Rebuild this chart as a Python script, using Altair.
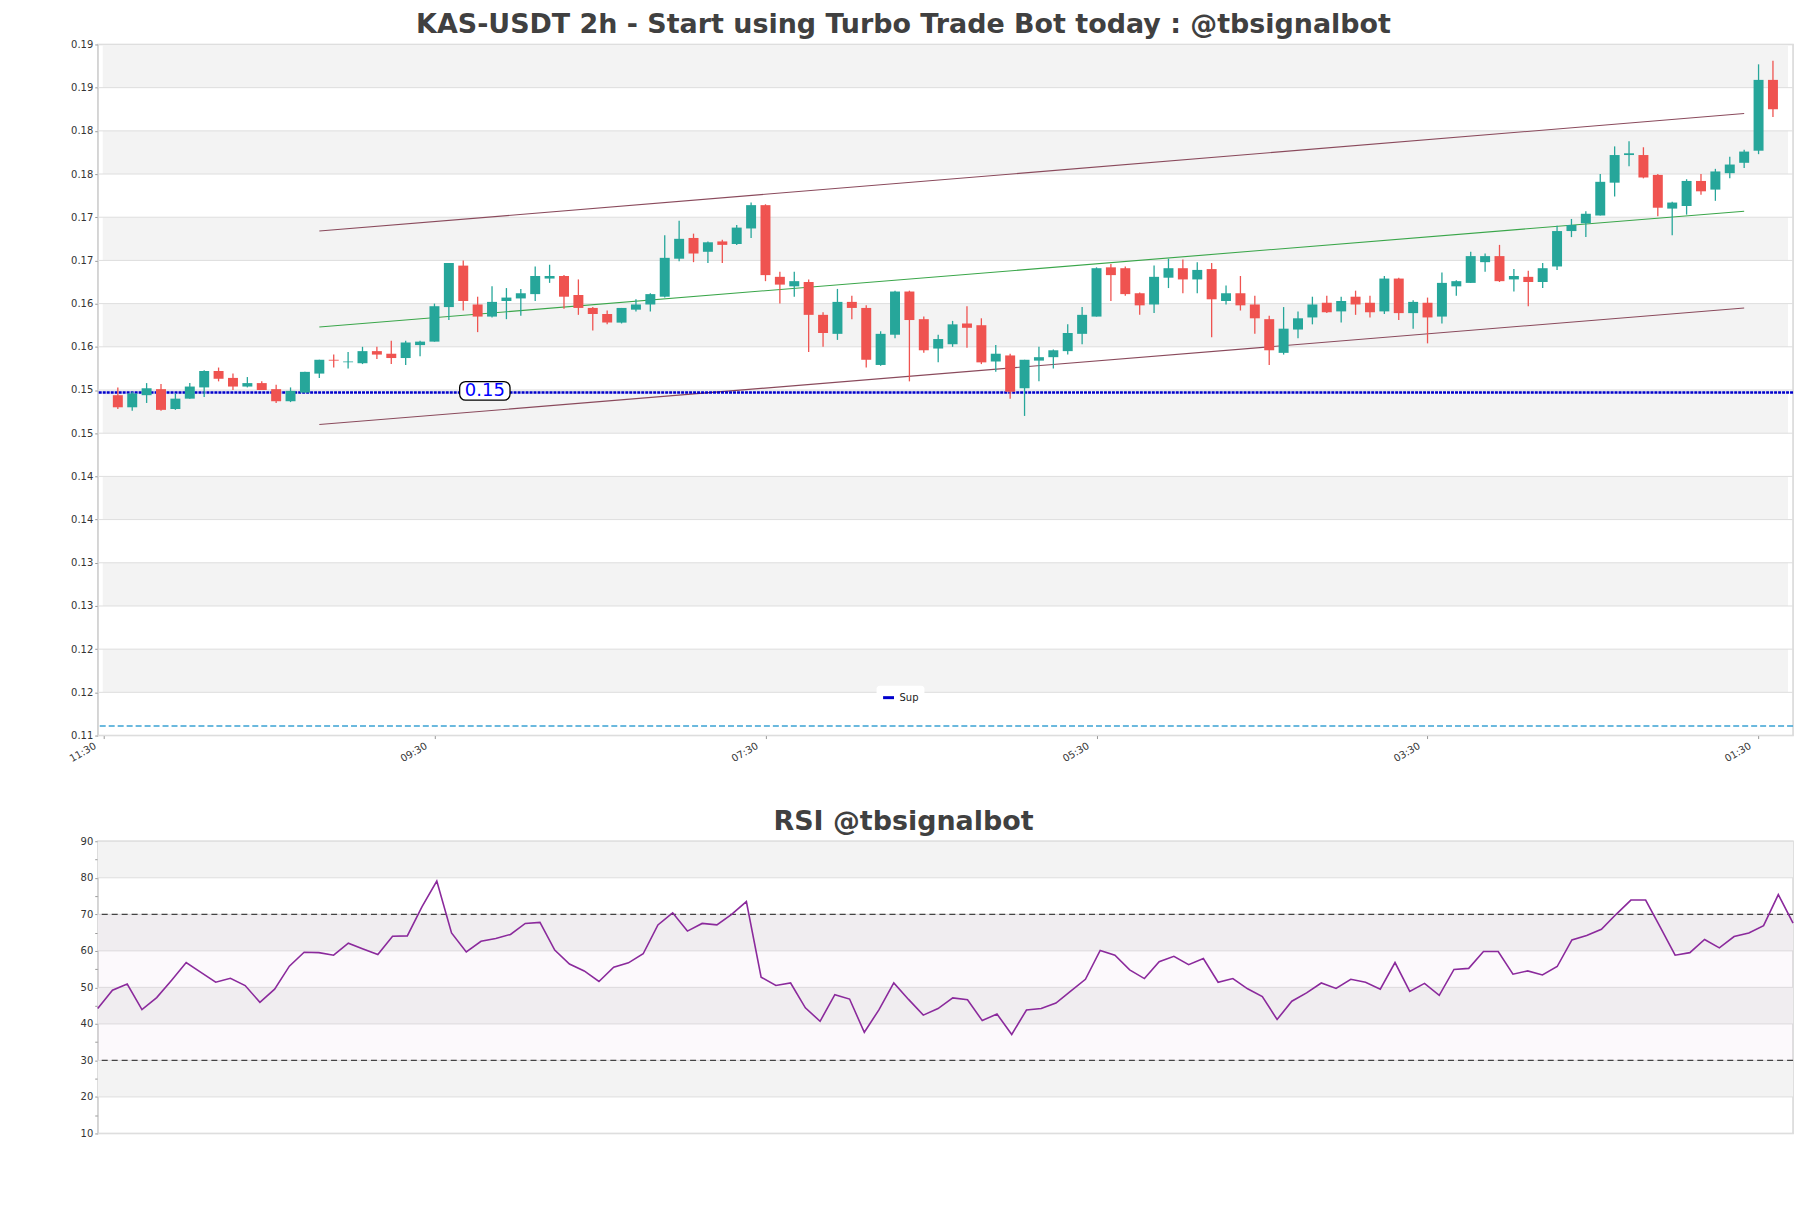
import altair as alt
import pandas as pd

main_title = "KAS-USDT 2h - Start using Turbo Trade Bot today : @tbsignalbot"
rsi_title = "RSI @tbsignalbot"

candle_open = [
    0.1519, 0.1505, 0.1519, 0.1526, 0.1503, 0.1515, 0.1528, 0.1547, 0.1539, 0.1529,
    0.1533, 0.1526, 0.1512, 0.1522, 0.1544, 0.1560, 0.1557, 0.1556, 0.1570, 0.1567,
    0.1562, 0.1577, 0.1581, 0.1621, 0.1669, 0.1624, 0.1610, 0.1628, 0.1631, 0.1636,
    0.1654, 0.1657, 0.1635, 0.1620, 0.1613, 0.1603, 0.1618, 0.1624, 0.1633, 0.1677,
    0.1701, 0.1685, 0.1697, 0.1694, 0.1712, 0.1739, 0.1656, 0.1645, 0.1650, 0.1612,
    0.1590, 0.1627, 0.1620, 0.1554, 0.1589, 0.1639, 0.1607, 0.1573, 0.1578, 0.1602,
    0.1600, 0.1558, 0.1565, 0.1527, 0.1559, 0.1563, 0.1570, 0.1590, 0.1610, 0.1667,
    0.1666, 0.1637, 0.1624, 0.1655, 0.1666, 0.1653, 0.1665, 0.1628, 0.1637, 0.1624,
    0.1607, 0.1568, 0.1595, 0.1609, 0.1626, 0.1616, 0.1633, 0.1626, 0.1616, 0.1654,
    0.1614, 0.1626, 0.1610, 0.1645, 0.1649, 0.1673, 0.1680, 0.1653, 0.1656, 0.1650,
    0.1668, 0.1709, 0.1718, 0.1727, 0.1765, 0.1797, 0.1797, 0.1774, 0.1735, 0.1738,
    0.1767, 0.1757, 0.1776, 0.1788, 0.1802, 0.1884,
]
candle_high = [
    0.1528, 0.1523, 0.1533, 0.1532, 0.1521, 0.1533, 0.1548, 0.1551, 0.1544, 0.1540,
    0.1535, 0.1531, 0.1528, 0.1546, 0.1560, 0.1566, 0.1569, 0.1575, 0.1575, 0.1582,
    0.1582, 0.1582, 0.1625, 0.1672, 0.1675, 0.1633, 0.1645, 0.1643, 0.1642, 0.1668,
    0.1670, 0.1658, 0.1653, 0.1621, 0.1617, 0.1620, 0.1630, 0.1637, 0.1704, 0.1721,
    0.1706, 0.1697, 0.1699, 0.1716, 0.1742, 0.1740, 0.1662, 0.1662, 0.1653, 0.1615,
    0.1642, 0.1634, 0.1623, 0.1593, 0.1640, 0.1640, 0.1610, 0.1589, 0.1605, 0.1622,
    0.1608, 0.1577, 0.1567, 0.1560, 0.1575, 0.1572, 0.1601, 0.1621, 0.1667, 0.1671,
    0.1668, 0.1638, 0.1669, 0.1677, 0.1676, 0.1673, 0.1672, 0.1646, 0.1657, 0.1634,
    0.1611, 0.1621, 0.1616, 0.1633, 0.1634, 0.1633, 0.1640, 0.1634, 0.1657, 0.1655,
    0.1629, 0.1632, 0.1661, 0.1652, 0.1685, 0.1683, 0.1693, 0.1665, 0.1663, 0.1672,
    0.1715, 0.1723, 0.1732, 0.1775, 0.1807, 0.1813, 0.1806, 0.1775, 0.1743, 0.1769,
    0.1775, 0.1781, 0.1795, 0.1803, 0.1902, 0.1906,
]
candle_low = [
    0.1503, 0.1501, 0.1510, 0.1501, 0.1502, 0.1515, 0.1517, 0.1535, 0.1525, 0.1528,
    0.1525, 0.1510, 0.1511, 0.1522, 0.1539, 0.1551, 0.1550, 0.1555, 0.1561, 0.1555,
    0.1554, 0.1564, 0.1581, 0.1606, 0.1617, 0.1592, 0.1609, 0.1607, 0.1611, 0.1628,
    0.1649, 0.1619, 0.1612, 0.1594, 0.1601, 0.1602, 0.1616, 0.1616, 0.1632, 0.1674,
    0.1673, 0.1672, 0.1672, 0.1693, 0.1701, 0.1651, 0.1625, 0.1633, 0.1569, 0.1575,
    0.1583, 0.1607, 0.1551, 0.1553, 0.1585, 0.1535, 0.1568, 0.1557, 0.1575, 0.1574,
    0.1555, 0.1546, 0.1515, 0.1495, 0.1535, 0.1550, 0.1566, 0.1578, 0.1610, 0.1628,
    0.1634, 0.1612, 0.1614, 0.1643, 0.1637, 0.1637, 0.1586, 0.1624, 0.1617, 0.1590,
    0.1554, 0.1566, 0.1585, 0.1601, 0.1614, 0.1603, 0.1612, 0.1609, 0.1613, 0.1606,
    0.1596, 0.1579, 0.1602, 0.1634, 0.1649, 0.1662, 0.1650, 0.1639, 0.1622, 0.1643,
    0.1664, 0.1702, 0.1702, 0.1727, 0.1749, 0.1784, 0.1770, 0.1726, 0.1704, 0.1728,
    0.1751, 0.1744, 0.1770, 0.1782, 0.1798, 0.1841,
]
candle_close = [
    0.1505, 0.1521, 0.1527, 0.1502, 0.1515, 0.1529, 0.1547, 0.1538, 0.1529, 0.1533,
    0.1525, 0.1512, 0.1524, 0.1546, 0.1560, 0.1559, 0.1558, 0.1570, 0.1566, 0.1562,
    0.1580, 0.1581, 0.1622, 0.1672, 0.1628, 0.1610, 0.1627, 0.1632, 0.1637, 0.1657,
    0.1657, 0.1633, 0.1620, 0.1613, 0.1603, 0.1620, 0.1624, 0.1636, 0.1678, 0.1700,
    0.1683, 0.1696, 0.1693, 0.1713, 0.1739, 0.1658, 0.1647, 0.1651, 0.1612, 0.1591,
    0.1627, 0.1620, 0.1560, 0.1590, 0.1639, 0.1606, 0.1571, 0.1584, 0.1601, 0.1597,
    0.1557, 0.1567, 0.1523, 0.1560, 0.1563, 0.1571, 0.1591, 0.1612, 0.1666, 0.1658,
    0.1636, 0.1623, 0.1656, 0.1666, 0.1653, 0.1664, 0.1630, 0.1637, 0.1623, 0.1608,
    0.1571, 0.1596, 0.1608, 0.1624, 0.1615, 0.1628, 0.1624, 0.1615, 0.1654, 0.1614,
    0.1627, 0.1609, 0.1649, 0.1651, 0.1680, 0.1680, 0.1651, 0.1657, 0.1650, 0.1666,
    0.1709, 0.1716, 0.1729, 0.1766, 0.1797, 0.1799, 0.1771, 0.1736, 0.1742, 0.1767,
    0.1755, 0.1778, 0.1786, 0.1801, 0.1884, 0.1850,
]

rsi_values = [
    44.2, 49.2, 50.9, 43.9, 47.2, 51.9, 56.8, 54.1, 51.4, 52.5,
    50.5, 45.9, 49.5, 55.8, 59.6, 59.5, 58.8, 62.1, 60.5, 59.0,
    64.0, 64.1, 72.1, 79.1, 64.9, 59.7, 62.6, 63.4, 64.5, 67.5,
    67.8, 60.2, 56.4, 54.5, 51.6, 55.5, 56.7, 59.2, 67.1, 70.4,
    65.4, 67.5, 67.1, 70.0, 73.5, 52.8, 50.5, 51.2, 44.4, 40.7,
    48.0, 46.8, 37.7, 43.9, 51.2, 46.7, 42.4, 44.2, 47.1, 46.6,
    40.9, 42.7, 37.1, 43.8, 44.2, 45.7, 49.0, 52.2, 60.1, 58.8,
    54.8, 52.4, 57.0, 58.5, 56.2, 57.9, 51.4, 52.4, 49.6, 47.5,
    41.2, 46.2, 48.5, 51.2, 49.7, 52.2, 51.4, 49.5, 56.8, 48.9,
    51.1, 47.8, 54.9, 55.2, 59.8, 59.8, 53.6, 54.5, 53.4, 55.7,
    63.0, 64.2, 65.9, 70.0, 73.9, 73.9, 66.4, 58.8, 59.5, 63.1,
    60.8, 63.9, 64.9, 66.9, 75.4, 67.6,
]

x_tick_values = [-1, 22, 45, 68, 91, 114]
x_tick_labels = ["11:30", "09:30", "07:30", "05:30", "03:30", "01:30"]
x_domain = [-1.05, 116.05]

y_tick_values = [0.1125, 0.1175, 0.1225, 0.1275, 0.1325, 0.1375, 0.1425, 0.1475, 0.1525,
                 0.1575, 0.1625, 0.1675, 0.1725, 0.1775, 0.1825, 0.1875, 0.1925]
y_tick_labels = ["0.11", "0.12", "0.12", "0.13", "0.13", "0.14", "0.14", "0.15", "0.15",
                 "0.16", "0.16", "0.17", "0.17", "0.18", "0.18", "0.19", "0.19"]

channel_idx = [14, 113]
channel_upper = [0.1709, 0.1845]
channel_mid = [0.1598, 0.1732]
channel_lower = [0.1485, 0.1620]

support_level = 0.1522
support_name = "Sup"
support_label = "0.15"
support_label_idx = 25.5
lower_dashed_level = 0.1136

rsi_tick_values = [10, 15, 20, 25, 30, 35, 40, 45, 50, 55, 60, 65, 70, 75, 80, 85, 90]
rsi_gray_bands = [[20, 30], [40, 50], [60, 70], [80, 90]]
rsi_levels = [30, 70]

# ---------------------------------------------------------------- styles
GREEN = "#26a69a"
RED = "#ef5350"
BAND = "#f3f3f3"
GRID = "#dedede"
FONT = "DejaVu Sans"
W = 1700

n = len(candle_open)
cdf = pd.DataFrame({"idx": list(range(n)), "open": candle_open, "high": candle_high,
                    "low": candle_low, "close": candle_close})

xsc = alt.Scale(domain=x_domain, nice=False, zero=False)
ysc = alt.Scale(domain=[y_tick_values[0], y_tick_values[-1]], nice=False, zero=False)

x_expr = "[" + ",".join("'%s'" % s for s in x_tick_labels) + "][round((datum.value - (%g)) / 23)]" % x_tick_values[0]
y_expr = "[" + ",".join("'%s'" % s for s in y_tick_labels) + "][round((datum.value - %g) / 0.005)]" % y_tick_values[0]

xaxis = alt.Axis(values=x_tick_values, labelExpr=x_expr, labelAngle=330, labelAlign="right",
                 labelBaseline="top", labelFontSize=10, tickSize=3, grid=False, title=None,
                 domain=False, labelPadding=2, labelOffset=-11)
yaxis = alt.Axis(values=y_tick_values, labelExpr=y_expr, labelFontSize=10, tickSize=3,
                 grid=False, title=None, minExtent=30, maxExtent=30)


def X(f):
    return alt.X(f + ":Q", scale=xsc, axis=xaxis)


def Y(f):
    return alt.Y(f + ":Q", scale=ysc, axis=yaxis)


band_df = pd.DataFrame({
    "lo": [y_tick_values[i] for i in range(1, len(y_tick_values) - 1, 2)],
    "hi": [y_tick_values[i + 1] for i in range(1, len(y_tick_values) - 1, 2)],
})
band_df["x0"] = x_domain[0]
band_df["x1"] = x_domain[1]
bands = alt.Chart(band_df).mark_rect(color=BAND).encode(x=X("x0"), x2="x1", y=Y("lo"), y2="hi")

grid_df = pd.DataFrame({"v": y_tick_values})
grid = alt.Chart(grid_df).mark_rule(color=GRID, strokeWidth=1).encode(y=Y("v"))


def chan(vals, color):
    d = pd.DataFrame({"idx": channel_idx, "v": vals})
    return alt.Chart(d).mark_line(color=color, strokeWidth=1.1).encode(x=X("idx"), y=Y("v"))


upper = chan(channel_upper, "#8a4a5c")
mid = chan(channel_mid, "#3aa64a")
lower = chan(channel_lower, "#8a4a5c")

cond = alt.condition("datum.close >= datum.open", alt.value(GREEN), alt.value(RED))
wicks = alt.Chart(cdf).mark_rule(strokeWidth=1.3).encode(x=X("idx"), y=Y("low"), y2="high", color=cond)
bodies = alt.Chart(cdf).mark_bar(size=10).encode(x=X("idx"), y=Y("open"), y2="close", color=cond)

sup_df = pd.DataFrame({"v": [support_level], "name": [support_name]})
sup = alt.Chart(sup_df).mark_rule(strokeWidth=2.5, strokeDash=[3, 1]).encode(
    y=Y("v"),
    color=alt.Color("name:N", scale=alt.Scale(domain=[support_name], range=["#0000cc"]),
                    legend=alt.Legend(orient="none", legendX=781, legendY=643, title=None,
                                      fillColor="white", padding=5, cornerRadius=3,
                                      labelFontSize=10, labelFont=FONT, labelColor="#222",
                                      symbolType="stroke", symbolStrokeWidth=3, symbolSize=120)),
)

low_df = pd.DataFrame({"v": [lower_dashed_level]})
low_line = alt.Chart(low_df).mark_rule(color="#3ba3d3", strokeWidth=1.5, strokeDash=[6, 3]).encode(y=Y("v"))

box_df = pd.DataFrame({"x0": [support_label_idx - 1.75], "x1": [support_label_idx + 1.75],
                       "y0": [support_level - 0.00088], "y1": [support_level + 0.00128]})
box = alt.Chart(box_df).mark_rect(fill="white", stroke="black", strokeWidth=1.3, cornerRadius=6).encode(
    x=X("x0"), x2="x1", y=Y("y0"), y2="y1")
lab_df = pd.DataFrame({"x": [support_label_idx], "v": [support_level], "t": [support_label]})
lab = alt.Chart(lab_df).mark_text(fontSize=18, color="#0000ff", font=FONT, baseline="middle", dy=-2).encode(
    x=X("x"), y=Y("v"), text="t:N")

main = alt.layer(bands, grid, low_line, upper, mid, lower, sup, wicks, bodies, box, lab).properties(
    width=W, height=693,
    title=alt.TitleParams(text=main_title, fontSize=27, font=FONT, fontWeight="bold", color="#404040",
                          anchor="middle", frame="group", dx=-42, offset=0),
)

# ---------------------------------------------------------------- RSI
rx = alt.Scale(domain=[0, n - 1], nice=False, zero=False)
ry = alt.Scale(domain=[10, 90], nice=False, zero=False)
raxis = alt.Axis(values=rsi_tick_values, labelExpr="datum.value % 10 == 0 ? datum.value : ''",
                 labelFontSize=10, tickSize=3, grid=False, title=None, minExtent=30, maxExtent=30)


def RX(f):
    return alt.X(f + ":Q", scale=rx, axis=None)


def RY(f):
    return alt.Y(f + ":Q", scale=ry, axis=raxis)


rb_df = pd.DataFrame({"lo": [b[0] for b in rsi_gray_bands], "hi": [b[1] for b in rsi_gray_bands]})
rb_df["x0"] = 0
rb_df["x1"] = n - 1
rbands = alt.Chart(rb_df).mark_rect(color=BAND).encode(x=RX("x0"), x2="x1", y=RY("lo"), y2="hi")
rgrid = alt.Chart(pd.DataFrame({"v": [t for t in rsi_tick_values if t % 10 == 0]})).mark_rule(
    color=GRID, strokeWidth=1).encode(y=RY("v"))
hatch_df = pd.DataFrame({"lo": [rsi_levels[0]], "hi": [rsi_levels[1]], "x0": [0], "x1": [n - 1]})
hatch = alt.Chart(hatch_df).mark_rect(color="#b06ac0", opacity=0.045).encode(
    x=RX("x0"), x2="x1", y=RY("lo"), y2="hi")
rlev = alt.Chart(pd.DataFrame({"v": rsi_levels})).mark_rule(
    color="#444444", strokeWidth=1.2, strokeDash=[6, 4]).encode(y=RY("v"))
rdf = pd.DataFrame({"idx": list(range(n)), "rsi": rsi_values})
rline = alt.Chart(rdf).mark_line(color="#8b2a9c", strokeWidth=1.6).encode(x=RX("idx"), y=RY("rsi"))

rsi = alt.layer(rbands, rgrid, hatch, rlev, rline).properties(
    width=W, height=293,
    title=alt.TitleParams(text=rsi_title, fontSize=27, font=FONT, fontWeight="bold", color="#404040",
                          anchor="middle", frame="group", dx=-42, offset=0),
)

chart = alt.vconcat(main, rsi, spacing=43).properties(
    padding={"left": 67, "top": 9, "right": 14, "bottom": 5}
).configure_view(
    stroke="#d6d6d6", strokeWidth=1.5
).configure_axis(
    labelFont=FONT, labelColor="#333333", domainColor="#d0d0d0", tickColor="#999999"
)

chart.save("out.html", embed_options={"renderer": "svg", "actions": False})
